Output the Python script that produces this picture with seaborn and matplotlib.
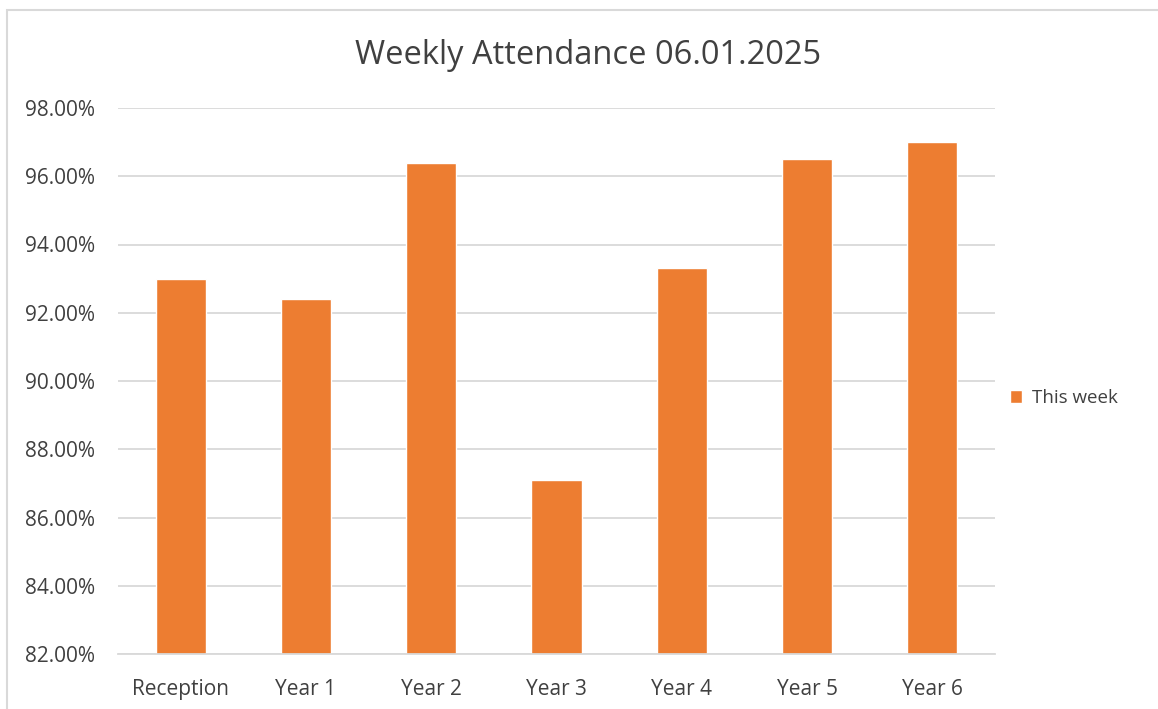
import matplotlib
matplotlib.use("Agg")
import matplotlib.pyplot as plt
import seaborn as sns
import pandas as pd
from matplotlib.ticker import FuncFormatter, MultipleLocator
from matplotlib.patches import Rectangle

categories = ["Reception", "Year 1", "Year 2", "Year 3", "Year 4", "Year 5", "Year 6"]
values = [93.0, 92.4, 96.4, 87.1, 93.3, 96.5, 97.0]
series_name = "This week"
title = "Weekly Attendance 06.01.2025"

df = pd.DataFrame({"cat": categories, "val": values, "series": series_name})

sns.set_theme(style="white")
plt.rcParams["font.family"] = ["Open Sans", "DejaVu Sans"]

W, H = 1158, 709
fig = plt.figure(figsize=(W / 100, H / 100), dpi=100)
ax = fig.add_axes([118 / W, 1 - 654 / H, (995 - 118) / W, (654 - 108) / H])

orange = "#ED7D31"
text_c = "#404040"
grid_c = "#D9D9D9"

sns.barplot(data=df, x="cat", y="val", hue="series", palette=[orange],
            width=0.4, ax=ax, saturation=1, legend=True)

ax.set_ylim(82, 98)
ax.yaxis.set_major_locator(MultipleLocator(2))
ax.yaxis.set_major_formatter(FuncFormatter(lambda v, p: f"{v:.2f}%"))
ax.set_xlim(-0.5, len(categories) - 0.5)
ax.grid(axis="y", color=grid_c, linewidth=1.3)
ax.set_axisbelow(True)
for s in ["left", "right", "top"]:
    ax.spines[s].set_visible(False)
ax.spines["bottom"].set_color(grid_c)
ax.spines["bottom"].set_linewidth(1.3)
ax.set_xlabel("")
ax.set_ylabel("")
ax.tick_params(axis="both", length=0, labelsize=15, colors=text_c)
ax.tick_params(axis="y", pad=16.5)
ax.tick_params(axis="x", pad=18)

fig.text(588 / W, 1 - 55 / H, title, fontsize=23.5, color=text_c,
         ha="center", va="center")

leg = ax.legend(loc="center left", bbox_to_anchor=(0.998, 0.469), frameon=False,
                fontsize=13.5, handlelength=0.65, handleheight=0.65, handletextpad=0.5,
                labelcolor=text_c)

fig.patches.append(Rectangle((7 / W, -0.1), 2.0, 1 - 10 / H + 0.1,
                             transform=fig.transFigure, fill=False,
                             edgecolor="#D9D9D9", linewidth=1.5))

fig.savefig("out.png", dpi=100, facecolor="white")
